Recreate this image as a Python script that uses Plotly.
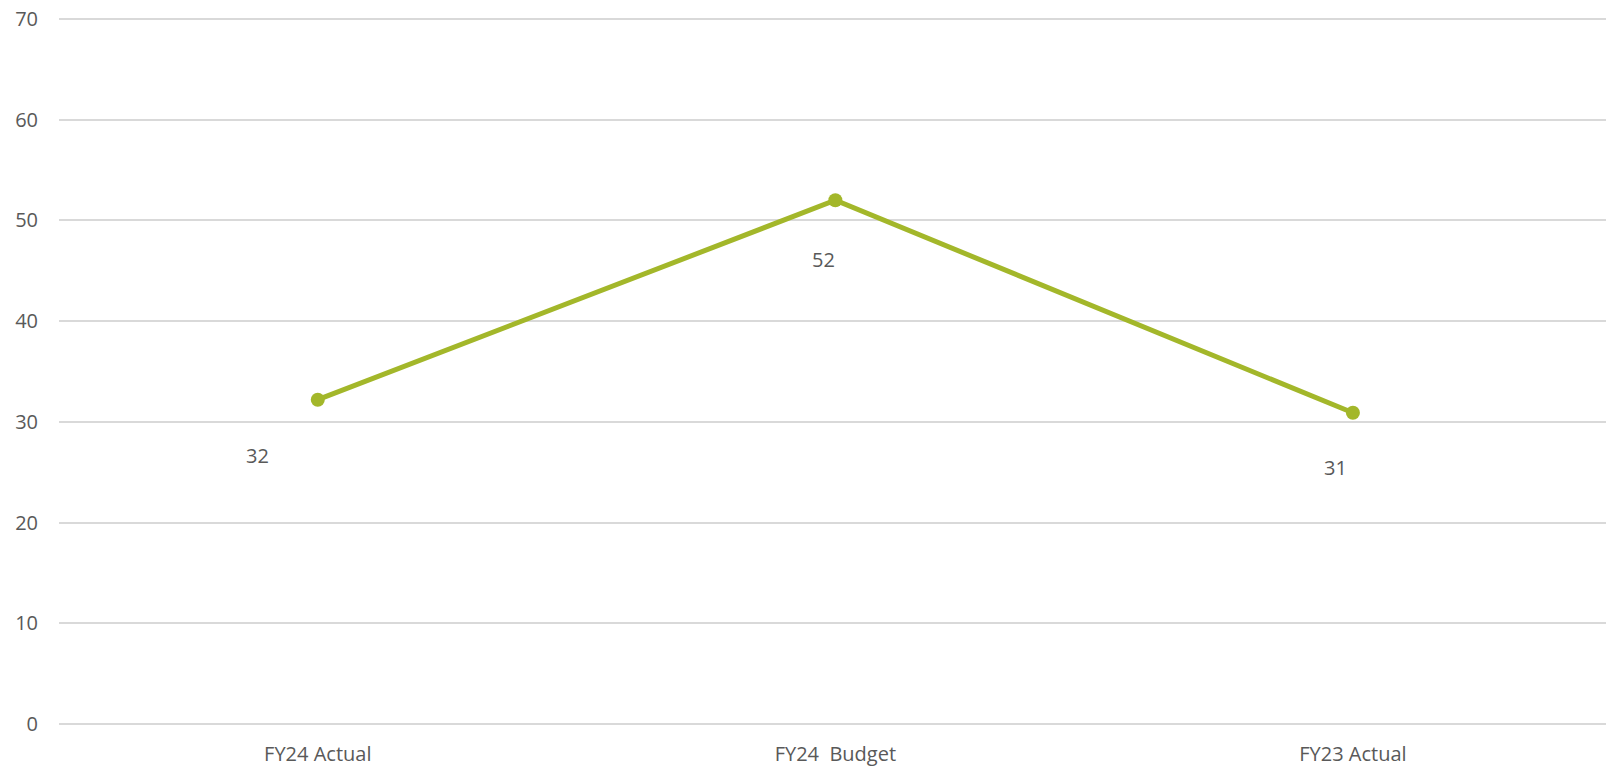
import plotly.graph_objects as go

categories = ["FY24 Actual", "FY24  Budget", "FY23 Actual"]
values = [32.2, 52.0, 30.9]
labels = ["32", "52", "31"]
y_ticks = [0, 10, 20, 30, 40, 50, 60, 70]

LINE_COLOR = "#A3B72A"
TEXT_COLOR = "#595959"
GRID_COLOR = "#D9D9D9"
FONT = "Open Sans"

# manual label offsets (pixels) as in the reference
label_dx = [-60, -12, -17]
label_dy = [-56, -59, -55]

fig = go.Figure()
fig.add_trace(go.Scatter(
    x=categories, y=values, mode="lines+markers",
    line=dict(color=LINE_COLOR, width=5),
    marker=dict(color=LINE_COLOR, size=14),
    hoverinfo="skip", showlegend=False, cliponaxis=False,
))

for c, v, t, dx, dy in zip(categories, values, labels, label_dx, label_dy):
    fig.add_annotation(x=c, y=v, text=t, showarrow=False,
                       xshift=dx, yshift=dy,
                       font=dict(family=FONT, size=20, color=TEXT_COLOR))

fig.update_layout(
    width=1606, height=769,
    margin=dict(l=59, r=0, t=18, b=45),
    paper_bgcolor="white", plot_bgcolor="white",
    font=dict(family=FONT, size=20, color=TEXT_COLOR),
)
fig.update_xaxes(
    type="category", range=[-0.5, 2.489],
    showgrid=False, showline=False, zeroline=False, ticks="",
    tickfont=dict(family=FONT, size=20, color=TEXT_COLOR),
    ticklabelstandoff=16,
)
fig.update_yaxes(
    range=[0, 70.1], tickvals=y_ticks,
    showgrid=True, gridcolor=GRID_COLOR, gridwidth=2,
    zeroline=True, zerolinecolor=GRID_COLOR, zerolinewidth=2,
    showline=False, ticks="",
    tickfont=dict(family=FONT, size=20, color=TEXT_COLOR),
    ticklabelstandoff=20,
)

fig.write_html("out.html")
